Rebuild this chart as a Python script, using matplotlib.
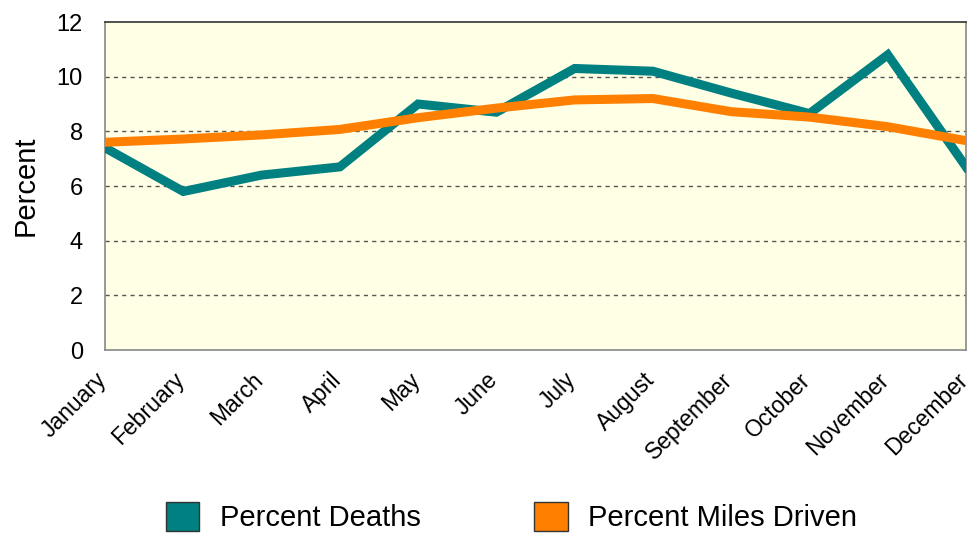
import matplotlib
matplotlib.use("Agg")
import matplotlib.pyplot as plt
from matplotlib.patches import Patch
from matplotlib.transforms import ScaledTranslation

months = ["January", "February", "March", "April", "May", "June", "July",
          "August", "September", "October", "November", "December"]
deaths = [7.4, 5.8, 6.4, 6.7, 9.0, 8.7, 10.3, 10.2, 9.4, 8.65, 10.8, 6.7]
miles = [7.6, 7.72, 7.87, 8.07, 8.5, 8.85, 9.15, 9.2, 8.72, 8.52, 8.17, 7.66]
yticks = [0, 2, 4, 6, 8, 10, 12]

teal = "#008080"
orange = "#FF8000"

plt.rcParams['font.family'] = ['Liberation Sans', 'DejaVu Sans']

fig = plt.figure(figsize=(9.76, 5.33), dpi=100)
ax = fig.add_axes([0.1076, 0.3433, 0.8822, 0.6154])
ax.set_facecolor("#FFFFE6")

x = list(range(len(months)))
ax.plot(x, deaths, color=teal, lw=6.5, solid_joinstyle='miter', zorder=3)
ax.plot(x, miles, color=orange, lw=6.5, solid_joinstyle='miter', zorder=3)

ax.set_xlim(0, len(months) - 1)
ax.set_ylim(0, 12)
ax.set_yticks(yticks)
ax.set_yticklabels([str(v) for v in yticks], fontsize=17)
ax.set_xticks(x)
ax.set_xticklabels(months, rotation=45, ha='right', va='center', fontsize=16.5,
                   rotation_mode='anchor')
ax.tick_params(axis='y', length=0, pad=16)
ax.tick_params(axis='x', length=0, pad=19)
offset = ScaledTranslation(-2 / 100, 0, fig.dpi_scale_trans)
for lbl in ax.get_xticklabels():
    lbl.set_transform(lbl.get_transform() + offset)

for v in yticks[1:-1]:
    ax.axhline(v, color="#555555", lw=1, ls=(0, (3, 3)), zorder=1)

for s in ax.spines.values():
    s.set_color("#888888")
    s.set_linewidth(1.2)
ax.spines['top'].set_color("#333333")

ax.set_ylabel("Percent", fontsize=21, labelpad=12)

handles = [Patch(facecolor=teal, edgecolor="#333333", lw=1),
           Patch(facecolor=orange, edgecolor="#333333", lw=1)]
fig.legend(handles, ["Percent Deaths", "Percent Miles Driven"], loc='center',
           bbox_to_anchor=(0.524, 0.03), ncol=2, frameon=False, fontsize=21,
           handlelength=1.15, handleheight=1.15, columnspacing=3.9, handletextpad=0.7)

fig.savefig("out.png", dpi=100)
